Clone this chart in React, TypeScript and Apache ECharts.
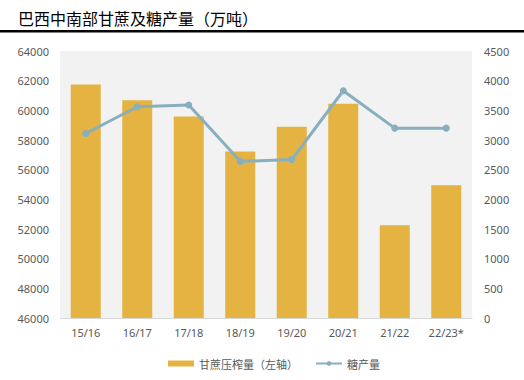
import React, { useEffect, useRef } from "react";
import * as echarts from "echarts";

const title = "巴西中南部甘蔗及糖产量（万吨）";
const categories = ["15/16", "16/17", "17/18", "18/19", "19/20", "20/21", "21/22", "22/23*"];
const caneCrush = [61750, 60680, 59580, 57230, 58900, 60450, 52250, 54950];
const sugarOutput = [3110, 3560, 3590, 2640, 2670, 3830, 3200, 3200];
const leftTicks = { min: 46000, max: 64000, interval: 2000 };
const rightTicks = { min: 0, max: 4500, interval: 500 };
const seriesNames = ["甘蔗压榨量（左轴）", "糖产量"];

const FONT = "'Noto Sans', 'Noto Sans CJK SC', sans-serif";
const CJK = "'Noto Sans CJK SC', 'Noto Sans', sans-serif";
const plain = (v: number) => String(v);

export default function App() {
  const ref = useRef<HTMLDivElement>(null);
  useEffect(() => {
    document.body.style.margin = "0";
    const chart = echarts.init(ref.current!, undefined, { renderer: "svg" });
    chart.setOption({
      animation: false,
      backgroundColor: "#ffffff",
      graphic: [
        {
          type: "text",
          left: 18,
          top: 10,
          style: { text: title, fill: "#000000", fontSize: 16, fontFamily: CJK },
        },
        {
          type: "rect",
          shape: { x: 0, y: 30, width: 524, height: 2.5 },
          style: { fill: "#000000" },
        },
      ],
      grid: {
        left: 60,
        right: 52,
        top: 51,
        bottom: 62,
        show: true,
        backgroundColor: "#F2F2F2",
        borderWidth: 0,
      },
      legend: {
        left: 163,
        top: 353,
        itemWidth: 26,
        itemHeight: 6,
        itemGap: 17,
        textStyle: { color: "#595959", fontSize: 11, fontFamily: CJK },
        data: [
          { name: seriesNames[0], icon: "rect" },
          { name: seriesNames[1] },
        ],
      },
      xAxis: {
        type: "category",
        data: categories,
        axisLine: { lineStyle: { color: "#D9D9D9" } },
        axisTick: { show: false },
        axisLabel: { color: "#595959", fontSize: 11, fontFamily: FONT, margin: 9 },
      },
      yAxis: [
        {
          type: "value",
          min: leftTicks.min,
          max: leftTicks.max,
          interval: leftTicks.interval,
          splitLine: { show: false },
          axisLine: { show: false },
          axisTick: { show: false },
          axisLabel: { color: "#595959", fontSize: 11, fontFamily: FONT, margin: 11, formatter: plain },
        },
        {
          type: "value",
          min: rightTicks.min,
          max: rightTicks.max,
          interval: rightTicks.interval,
          splitLine: { show: false },
          axisLine: { show: false },
          axisTick: { show: false },
          axisLabel: { color: "#595959", fontSize: 11, fontFamily: FONT, margin: 12, formatter: plain },
        },
      ],
      series: [
        {
          name: seriesNames[0],
          type: "bar",
          data: caneCrush,
          barWidth: 30,
          itemStyle: { color: "#E4B341" },
          yAxisIndex: 0,
        },
        {
          name: seriesNames[1],
          type: "line",
          data: sugarOutput,
          yAxisIndex: 1,
          symbol: "circle",
          symbolSize: 7,
          lineStyle: { color: "#87AFBE", width: 3 },
          itemStyle: { color: "#87AFBE" },
        },
      ],
    });
    return () => chart.dispose();
  }, []);
  return <div ref={ref} style={{ width: 524, height: 380, position: "absolute", left: 0, top: 0 }} />;
}
